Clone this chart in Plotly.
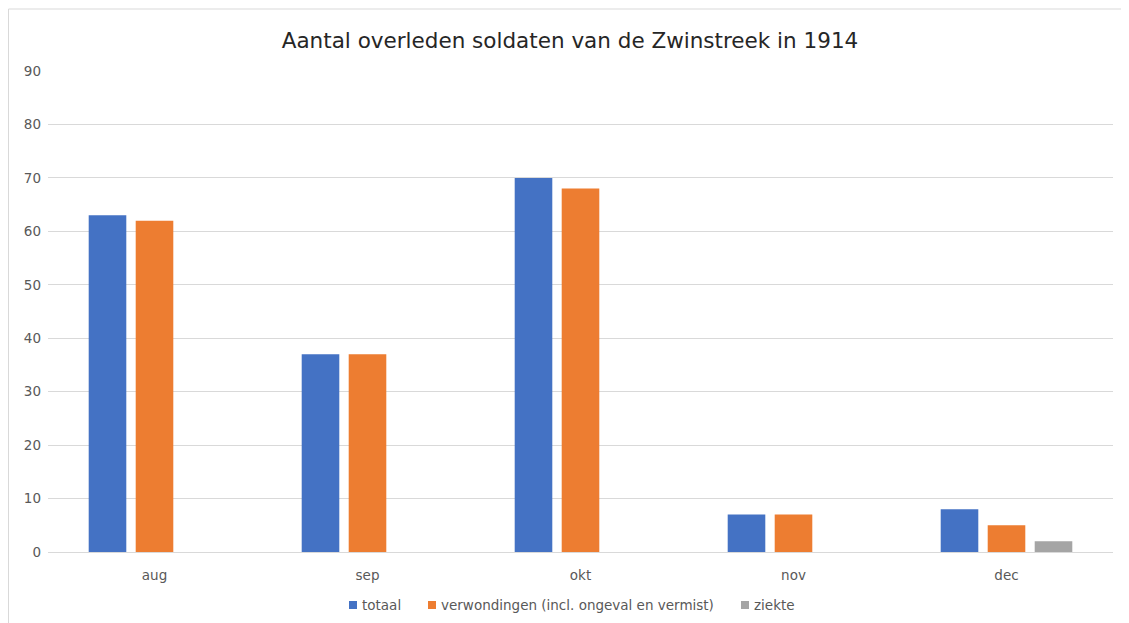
import plotly.graph_objects as go

months = ["aug", "sep", "okt", "nov", "dec"]
totaal = [63, 37, 70, 7, 8]
verwondingen = [62, 37, 68, 7, 5]
ziekte = [0, 0, 0, 0, 2]
y_ticks = [0, 10, 20, 30, 40, 50, 60, 70, 80, 90]
series_names = ["totaal", "verwondingen (incl. ongeval en vermist)", "ziekte"]
series_colors = ["#4472C4", "#ED7D31", "#A5A5A5"]
series_values = [totaal, verwondingen, ziekte]

# page has an 8px body margin; compensate so absolute positions match
OFF = 8
W, H = 1129 - OFF, 623 - OFF
ml, mr, mt, mb = 48 - OFF, 16, 71 - OFF, 71
pw = W - ml - mr
ph = H - mt - mb


def px(ax):
    return (ax - OFF - ml) / pw


def py(ay):
    return (H - mb - (ay - OFF)) / ph


fig = go.Figure()
for name, vals, col in zip(series_names, series_values, series_colors):
    fig.add_trace(go.Bar(name=name, x=months, y=vals, marker_color=col,
                         marker_line_width=0, showlegend=False))

# outer chart border
fig.add_shape(type="rect", xref="paper", yref="paper",
              x0=px(8.5), x1=px(1126), y0=py(640), y1=py(9),
              line=dict(color="#D9D9D9", width=1), fillcolor="rgba(0,0,0,0)", layer="below")

# legend: small squares + labels
legend_x = [349, 428, 741]
for name, col, lx in zip(series_names, series_colors, legend_x):
    fig.add_shape(type="rect", xref="paper", yref="paper",
                  x0=px(lx), x1=px(lx + 8), y0=py(609), y1=py(601),
                  line=dict(width=0), fillcolor=col)
    fig.add_annotation(text=name, xref="paper", yref="paper", x=px(lx + 11), y=py(605),
                       xanchor="left", yanchor="middle", showarrow=False,
                       font=dict(size=13.5, color="#595959", family="DejaVu Sans, sans-serif"))

fig.update_layout(
    width=W, height=H,
    margin=dict(l=ml, r=mr, t=mt, b=mb, autoexpand=False),
    paper_bgcolor="white", plot_bgcolor="white",
    font=dict(family="DejaVu Sans, sans-serif", color="#595959", size=13.5),
    title=dict(text="Aantal overleden soldaten van de Zwinstreek in 1914",
               x=px(570), xref="paper", xanchor="center", y=1 - 32 / H, yanchor="middle",
               font=dict(size=21.5, color="#262626", family="DejaVu Sans, sans-serif")),
    barmode="group", bargap=0.338, bargroupgap=0.2,
    showlegend=False,
    xaxis=dict(showgrid=False, showline=True, linecolor="#D9D9D9", linewidth=1,
               ticks="", tickfont=dict(size=13.5, color="#595959"), automargin=False,
               ticklabelstandoff=11),
    yaxis=dict(range=[0, 90], tickvals=y_ticks, showgrid=True, gridcolor="#D9D9D9",
               gridwidth=1, zeroline=False, showline=False, ticks="", automargin=False,
               tickfont=dict(size=13.5, color="#595959"), ticklabelstandoff=6),
)
fig.write_html("out.html")
